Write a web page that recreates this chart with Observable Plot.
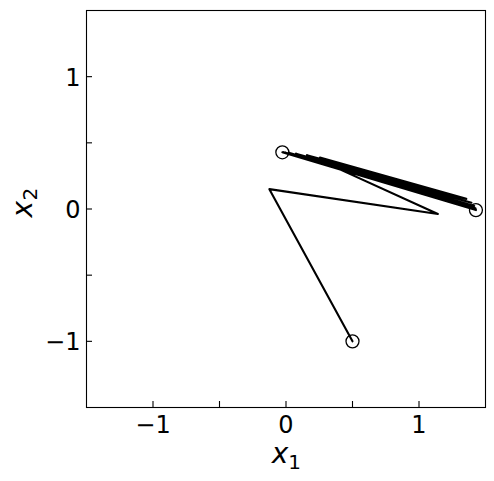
<!DOCTYPE html>
<html>
<head>
<meta charset="utf-8">
<script src="https://cdn.jsdelivr.net/npm/d3@7"></script>
<script src="https://cdn.jsdelivr.net/npm/@observablehq/plot@0.6"></script>
<style>
  html, body { margin: 0; padding: 0; background: #fff; }
  svg { display: block; }
</style>
</head>
<body>
<div id="chart"></div>
<script>
// Trajectory values
const trajX = [0.5, -0.125, 1.142188, 0.310205, 1.294542, 0.255142, 1.355814, 0.157427, 1.394352, 0.075119, 1.415484, 0.020738, 1.424430, -0.008279, 1.427295, -0.021070, 1.427967, -0.025866, 1.428055, -0.027431, 1.428041];
const trajY = [-1, 0.15, -0.0375, 0.342656, 0.093062, 0.388363, 0.076543, 0.406744, 0.047228, 0.418306, 0.022536, 0.424645, 0.006221, 0.427329, -0.002484, 0.428189, -0.006321, 0.428390, -0.007760, 0.428417, -0.008229];
// Circle markers (start point and final 2-cycle)
const markX = [0.5, -0.027431, 1.428041];
const markY = [-1, 0.428417, -0.008229];
// Ticks
const majorTicks = [-1, 0, 1];
const minorTicks = [-0.5, 0.5];
const allTicks = [-1, -0.5, 0, 0.5, 1];
const xLabel = ["x", "1"];
const yLabel = ["x", "2"];

const traj = trajX.map((x, i) => ({x, y: trajY[i]}));
const marks = markX.map((x, i) => ({x, y: markY[i]}));
const fmt = d => d < 0 ? "\u2212" + Math.abs(d) : String(d);

const W = 494, H = 481;
const mL = 86, mR = 9, mT = 10, mB = 74;
const fw = W - mL - mR, fh = H - mT - mB;
const tick = 6;

const chart = Plot.plot({
  width: W, height: H,
  marginLeft: mL, marginRight: mR, marginTop: mT, marginBottom: mB,
  x: {domain: [-1.5, 1.5], axis: null},
  y: {domain: [-1.5, 1.5], axis: null},
  style: {fontFamily: "'DejaVu Sans', sans-serif", background: "white", color: "black"},
  marks: [
    Plot.line(traj, {x: "x", y: "y", stroke: "black", strokeWidth: 2.1, curve: "linear"}),
    Plot.dot(marks, {x: "x", y: "y", r: 6.5, stroke: "black", strokeWidth: 1.3, fill: "none"}),
    Plot.frame({stroke: "black", strokeWidth: 1.1}),
    // inward ticks, bottom
    Plot.ruleX(allTicks, {x: d => d, stroke: "black", strokeWidth: 1.1, insetTop: fh - tick}),
    // inward ticks, left
    Plot.ruleY(allTicks, {y: d => d, stroke: "black", strokeWidth: 1.1, insetRight: fw - tick}),
    // tick labels
    Plot.text(majorTicks, {x: d => d, text: fmt, frameAnchor: "bottom", lineAnchor: "bottom", dy: 25, fontSize: 24, fill: "black"}),
    Plot.text(majorTicks, {y: d => d, text: fmt, frameAnchor: "left", textAnchor: "end", lineAnchor: "bottom", dx: -6, dy: 9, fontSize: 24, fill: "black"}),
    // axis labels (mathtext-like x with subscript)
    Plot.text([xLabel[0]], {text: d => d, frameAnchor: "bottom", lineAnchor: "bottom", dx: -6, dy: 55, fontSize: 28, fontStyle: "italic", fill: "black"}),
    Plot.text([xLabel[1]], {text: d => d, frameAnchor: "bottom", lineAnchor: "bottom", dx: 8.5, dy: 61, fontSize: 20, fill: "black"}),
    Plot.text([yLabel[0]], {text: d => d, frameAnchor: "left", lineAnchor: "bottom", rotate: -90, dx: -55, dy: 8.5, fontSize: 28, fontStyle: "italic", fill: "black"}),
    Plot.text([yLabel[1]], {text: d => d, frameAnchor: "left", lineAnchor: "bottom", rotate: -90, dx: -49.5, dy: -8.5, fontSize: 20, fill: "black"})
  ]
});
document.getElementById("chart").appendChild(chart);
</script>
</body>
</html>
